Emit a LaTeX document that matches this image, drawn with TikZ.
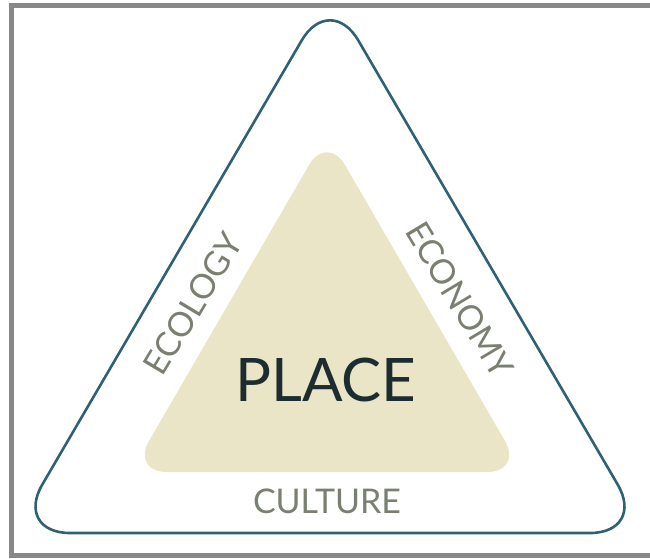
\documentclass[tikz,border=0pt]{standalone}
\usepackage{fontspec}
\setmainfont{Lato}
\usepackage{tikz}
\usetikzlibrary{positioning}

\definecolor{edgeblue}{HTML}{2F6074}
\definecolor{placefill}{HTML}{E9E5C6}
\definecolor{labelgray}{HTML}{7A8071}
\definecolor{placetext}{HTML}{1D2C30}
\definecolor{framegray}{HTML}{888888}

\begin{document}
\begin{tikzpicture}[
                x=1pt, y=-1pt,
                outer/.style={draw=edgeblue, line width=2.6pt, rounded corners=56pt, line join=round},
                inner/.style={fill=placefill, rounded corners=36pt},
                side/.style={text=labelgray, font=\fontsize{34}{40}\selectfont, inner sep=0pt},
                centre/.style={text=placetext, font=\fontsize{60}{70}\selectfont, inner sep=0pt}]
            \useasboundingbox (0,0) rectangle (650,558);

            % Cadre
            \draw[framegray, line width=5pt] (650,5.5) -- (11,5.5) -- (11,555.5) -- (650,555.5);

            % Triangles
            \draw[outer] (330,-8) -- (646,533) -- (14,533) -- cycle;
            \fill[inner] (327,134) -- (523,472) -- (131,472) -- cycle;

            % Textes
            \node[centre] (place) at (326,380) {PLACE};
            \node[side] (culture) at (327,501) {CULTURE};
            \node[side, rotate=59] (ecology) at (193,304) {ECOLOGY};
            \node[side, rotate=-59] (economy) at (460,300) {ECONOMY};

        \end{tikzpicture}
\end{document}
